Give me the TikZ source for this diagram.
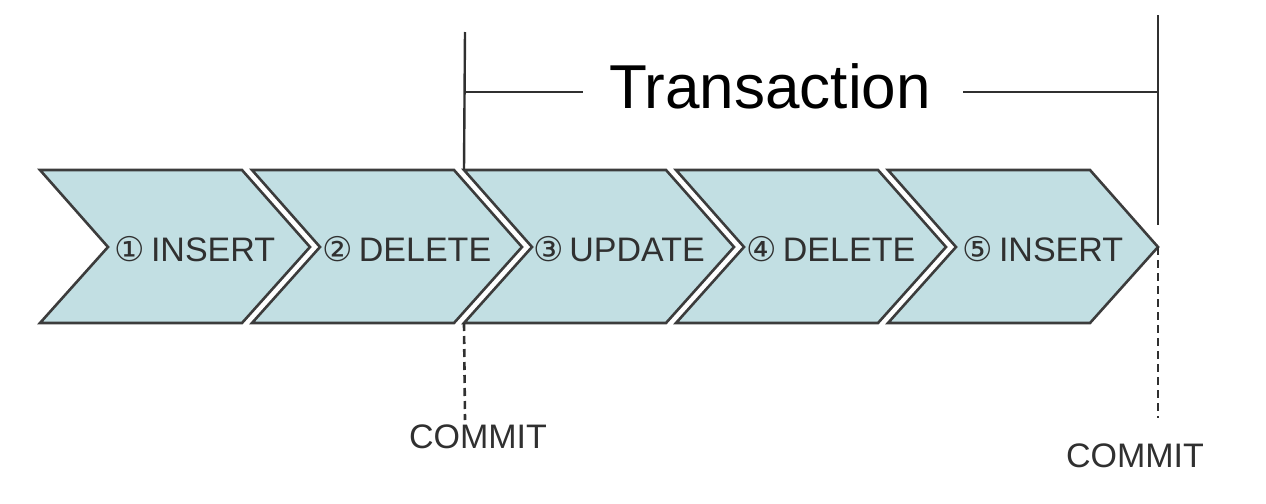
\documentclass[tikz,border=0pt]{standalone}
\usepackage{fontspec}
\setmainfont{Liberation Sans}
\newfontfamily\circfont{DejaVu Sans}
\usepackage{tikz}
\usetikzlibrary{positioning, calc}
\definecolor{chevfill}{HTML}{C2DFE3}
\definecolor{chevline}{HTML}{3C3C3C}
\definecolor{inkgrey}{HTML}{303030}

\begin{document}
\begin{tikzpicture}[
  x=0.5pt, y=-0.5pt,
  chev/.style={fill=chevfill, draw=chevline, line width=1.3pt, line join=miter},
  steplab/.style={font=\fontsize{17}{20}\selectfont, text=inkgrey, anchor=base, inner sep=0pt},
  commitlab/.style={font=\fontsize{17}{20}\selectfont, text=inkgrey, anchor=base, inner sep=0pt},
  brk/.style={draw=inkgrey, line width=1.2pt},
  cmline/.style={draw=inkgrey, line width=1.3pt, dash pattern=on 4pt off 2.5pt},
]
\useasboundingbox (0,0) rectangle (1266,504);

% ---------- the five steps ----------
\foreach \L/\c/\t [count=\i] in {40/①/INSERT, 252/②/DELETE, 464/③/UPDATE,
                                 676/④/DELETE, 888/⑤/INSERT} {
  \draw[chev] (\L,170) -- ++(202,0) -- ++(68,77) -- ++(-68,76) -- ++(-202,0)
              -- ++(68,-76) -- cycle;
  \coordinate (top\i) at (\L,170);
  \coordinate (bot\i) at (\L,323);
  \coordinate (tip\i) at (\L+270,247);
  \node[steplab] (s\i) at (\L+155,261) {{\circfont\c}\,\t};
}

% ---------- transaction bracket ----------
\node[font=\fontsize{31}{36}\selectfont, text=black, anchor=base, inner sep=0pt]
  (tr) at (770,108) {Transaction};
\coordinate (trL) at (465,32);
\coordinate (trR) at (1158,15);
\coordinate (trRb) at (1158,225);
\draw[brk] (trL) -- (top3);
\draw[brk] (trL |- 0,92) -- ([xshift=-13pt]tr.west |- 0,92);
\draw[brk] ([xshift=16pt]tr.east |- 0,92) -- (trR |- 0,92);
\draw[brk] (trR) -- (trRb);

% ---------- commit points ----------
\node[commitlab] (cm1) at (478,448) {COMMIT};
\node[commitlab] (cm2) at (1135,467) {COMMIT};
\coordinate (cm1a) at (465,420);
\coordinate (cm2a) at (1158,418);
\draw[cmline] (bot3) -- (cm1a);
\draw[cmline] (tip5) -- (cm2a);

\end{tikzpicture}
\end{document}
